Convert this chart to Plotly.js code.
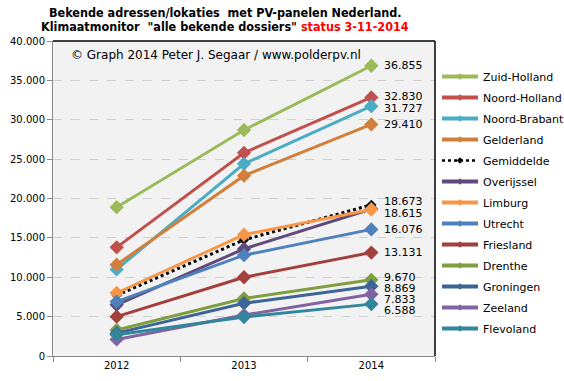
<!DOCTYPE html>
<html>
<head>
<meta charset="utf-8">
<script src="https://cdn.plot.ly/plotly-3.0.1.min.js"></script>
<style>html,body{margin:0;padding:0;background:#fff;}#chart{width:564px;height:381px;}</style>
</head>
<body>
<div id="chart"></div>
<script>
const years = ['2012', '2013', '2014'];
const seriesNames = ['Zuid-Holland','Noord-Holland','Noord-Brabant','Gelderland','Gemiddelde','Overijssel','Limburg','Utrecht','Friesland','Drenthe','Groningen','Zeeland','Flevoland'];
const zuidHolland  = [18900, 28700, 36855];
const noordHolland = [13800, 25800, 32830];
const noordBrabant = [11000, 24400, 31727];
const gelderland   = [11600, 22900, 29410];
const gemiddelde   = [7700, 14750, 19190];
const overijssel   = [6500, 13600, 18673];
const limburg      = [8000, 15400, 18615];
const utrecht      = [6900, 12800, 16076];
const friesland    = [5000, 10000, 13131];
const drenthe      = [3300, 7300, 9670];
const groningen    = [2900, 6700, 8869];
const zeeland      = [2100, 5200, 7833];
const flevoland    = [2700, 4950, 6588];
const endLabels    = ['36.855','32.830','31.727','29.410',null,'18.673','18.615','16.076','13.131','9.670','8.869','7.833','6.588'];
const yTickVals = [0,5000,10000,15000,20000,25000,30000,35000,40000];
const titleLine1 = 'Bekende adressen/lokaties  met PV-panelen Nederland.';
const titleLine2 = 'Klimaatmonitor  "alle bekende dossiers" ';
const titleStatus = 'status 3-11-2014';
const copyright = '© Graph 2014 Peter J. Segaar / www.polderpv.nl';

const allValues = [zuidHolland,noordHolland,noordBrabant,gelderland,gemiddelde,overijssel,limburg,utrecht,friesland,drenthe,groningen,zeeland,flevoland];
const colors = ['#9BBB59','#C0504D','#4BACC6','#D0803A','#000000','#604A7B','#F79646','#4F81BD','#A33F3C','#7F9E40','#3C6496','#8064A2','#31869B'];
const labelShift = [0,1,-2,0,0,7,-4,0,0,2,-2,-5,-6];

const traces = [];
seriesNames.forEach((n,i)=>{
  const avg = n==='Gemiddelde';
  traces.push({
    x: years, y: allValues[i], name: n, type:'scatter', mode:'lines+markers', showlegend:false,
    line: {color: colors[i], width: 3, dash: avg?'dot':'solid'},
    marker: {symbol:'diamond', size: avg?8:11, color: colors[i]}
  });
});
seriesNames.forEach((n,i)=>{
  const avg = n==='Gemiddelde';
  traces.push({
    x: [null], y: [null], name: n, type:'scatter', mode:'lines+markers', showlegend:true, legendgroup:'g'+i,
    line: {color: colors[i], width: avg?2.5:4, dash: avg?'dot':'solid'},
    marker: {symbol:'diamond', size: 5, color: colors[i]}
  });
});

const lastIdx = years.length - 1;
const annotations = [];
endLabels.forEach((t,i)=>{
  if(!t) return;
  annotations.push({x: lastIdx, y: allValues[i][lastIdx], xref:'x', yref:'y', text:t, showarrow:false,
    xanchor:'left', xshift:11, yshift:labelShift[i], font:{family:'DejaVu Sans', size:11, color:'#000'}});
});
annotations.push({x:0.042, y:0.955, xref:'paper', yref:'paper', text:copyright,
  showarrow:false, xanchor:'left', yanchor:'middle', font:{family:'DejaVu Sans', size:12, color:'#000'}});
annotations.push({x:(225-53)/382, y:(356-12)/315, xref:'paper', yref:'paper', text:'<b>'+titleLine1+'</b>',
  showarrow:false, xanchor:'center', yanchor:'middle', font:{family:'DejaVu Sans Condensed, DejaVu Sans', size:12.5, color:'#000'}});
annotations.push({x:(225-53)/382, y:(356-27)/315, xref:'paper', yref:'paper', text:'<b>'+titleLine2+'<span style="color:#FF0000">'+titleStatus+'</span></b>',
  showarrow:false, xanchor:'center', yanchor:'middle', font:{family:'DejaVu Sans Condensed, DejaVu Sans', size:12.5, color:'#000'}});

const layout = {
  width:564, height:381,
  margin:{l:53, r:129, t:41, b:25, pad:0, autoexpand:false},
  paper_bgcolor:'#ffffff', plot_bgcolor:'#F2F2F2',
  separators: ',.',
  showlegend:true,
  legend:{x:(437-53)/382, y:(356-62)/315, xanchor:'left', yanchor:'top',
    font:{family:'DejaVu Sans', size:11, color:'#000'},
    bgcolor:'rgba(0,0,0,0)', tracegroupgap:2, itemwidth:36},
  xaxis:{type:'category', range:[-0.5,2.5], showgrid:false, zeroline:false,
    showline:true, linecolor:'#888888', linewidth:1, ticks:'outside', ticklen:5, tickcolor:'#888888',
    tickson:'boundaries', tickfont:{family:'DejaVu Sans', size:10, color:'#000'}},
  yaxis:{range:[0,40000], tickvals:yTickVals, tickformat:',d', showgrid:true, gridcolor:'#D0D0D0', griddash:'dash',
    zeroline:false, showline:true, linecolor:'#888888', linewidth:1, ticks:'outside', ticklen:5, tickcolor:'#888888',
    tickfont:{family:'DejaVu Sans', size:10, color:'#000'}},
  shapes:[
    {type:'line', xref:'paper', yref:'paper', x0:0, x1:1, y0:1, y1:1, line:{color:'#000', width:1.5}},
    {type:'line', xref:'paper', yref:'paper', x0:1, x1:1, y0:0, y1:1, line:{color:'#000', width:1.5}}
  ],
  annotations: annotations
};
Plotly.newPlot('chart', traces, layout, {displayModeBar:false, staticPlot:true});
</script>
</body>
</html>
